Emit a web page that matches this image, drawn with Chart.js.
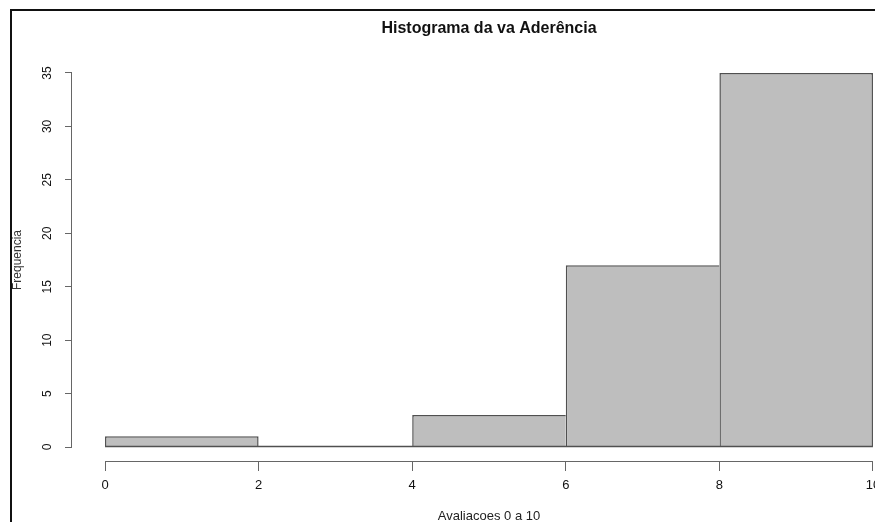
<!DOCTYPE html>
<html>
<head>
<meta charset="utf-8">
<script src="https://cdn.jsdelivr.net/npm/chart.js@4/dist/chart.umd.min.js"></script>
<style>
  html, body { margin: 0; padding: 0; background: #fff; overflow: hidden; }
  #frame { position: absolute; left: 10px; top: 9px; width: 1000px; height: 1000px;
           border-left: 2px solid #111; border-top: 2px solid #111; }
  #hist { position: absolute; left: 0; top: 0; }
</style>
</head>
<body>
<div id="frame"></div>
<canvas id="hist" width="978" height="532"></canvas>
<script>
// histogram bins - Avaliacoes 0 a 10
const binStarts = [0, 2, 4, 6, 8];
const binEnds = [2, 4, 6, 8, 10];
const counts = [1, 0, 3, 17, 35];
const xTicks = [0, 2, 4, 6, 8, 10];
const yTicks = [0, 5, 10, 15, 20, 25, 30, 35];

const FONT = "'Liberation Sans', Arial, sans-serif";
const AXIS_COLOR = "#666";
const BAR_EDGE = "#505050";

// R style axes: lines only from first to last tick, plus the bar baseline
const rAxes = {
  id: "rAxes",
  afterDatasetsDraw(chart) {
    const { ctx, chartArea } = chart;
    const x = chart.scales.x, y = chart.scales.y;
    const x0 = x.getPixelForValue(xTicks[0]);
    const x1 = x.getPixelForValue(xTicks[xTicks.length - 1]);
    const y0 = y.getPixelForValue(yTicks[0]);
    const y1 = y.getPixelForValue(yTicks[yTicks.length - 1]);
    const base = Math.round(y.getPixelForValue(0)) - 0.5;
    const ax = Math.round(chartArea.bottom) - 0.5;
    const ay = Math.round(chartArea.left) - 0.5;

    ctx.save();
    ctx.strokeStyle = AXIS_COLOR;
    ctx.lineWidth = 1;
    ctx.beginPath();
    ctx.moveTo(x0, ax); ctx.lineTo(x1, ax);
    ctx.moveTo(ay, y0); ctx.lineTo(ay, y1);
    ctx.stroke();
    ctx.strokeStyle = BAR_EDGE;
    ctx.lineWidth = 1.5;
    ctx.beginPath();
    ctx.moveTo(x0, base); ctx.lineTo(x1, base);
    ctx.stroke();
    ctx.restore();
  }
};

new Chart(document.getElementById("hist"), {
  type: "bar",
  data: {
    datasets: [{
      data: counts.map((c, i) => ({ x: (binStarts[i] + binEnds[i]) / 2, y: c })),
      backgroundColor: "#bebebe",
      borderColor: BAR_EDGE,
      borderWidth: ctx => {
        const i = ctx.dataIndex;
        const c = counts[i];
        return {
          top: 1.5,
          left: (i === 0 || counts[i - 1] <= c) ? 1.5 : 0,
          right: (i === counts.length - 1 || counts[i + 1] < c) ? 1.5 : 0,
          bottom: 0
        };
      },
      barPercentage: 1,
      categoryPercentage: 1,
      inflateAmount: 0
    }]
  },
  options: {
    responsive: false,
    animation: false,
    devicePixelRatio: 1,
    layout: { padding: { left: 0, right: 72, top: 0, bottom: 0 } },
    plugins: {
      legend: { display: false },
      tooltip: { enabled: false },
      title: {
        display: true,
        fullSize: false,
        text: "Histograma da va Aderência",
        color: "#111",
        font: { family: FONT, size: 16, weight: "bold" },
        padding: { top: 19, bottom: 19.8 }
      }
    },
    scales: {
      x: {
        type: "linear",
        min: -0.43,
        max: 10.43,
        offset: false,
        afterBuildTicks: s => { s.ticks = xTicks.map(v => ({ value: v })); },
        afterFit: s => { s.height = 70; },
        grid: { offset: false, drawOnChartArea: false, drawTicks: true, tickLength: 9, color: AXIS_COLOR },
        border: { display: false },
        ticks: { color: "#111", font: { family: FONT, size: 13 }, padding: 7, maxRotation: 0 },
        title: {
          display: true,
          text: "Avaliacoes 0 a 10",
          color: "#222",
          font: { family: FONT, size: 13 },
          padding: { top: 0, bottom: 8 }
        }
      },
      y: {
        min: -1.4,
        max: 36.4,
        afterBuildTicks: s => { s.ticks = yTicks.map(v => ({ value: v })); },
        afterFit: s => { s.width = 72; },
        grid: { drawOnChartArea: false, drawTicks: true, tickLength: 7, color: AXIS_COLOR },
        border: { display: false },
        ticks: {
          color: "#111",
          font: { family: FONT, size: 12 },
          padding: 11,
          minRotation: 90,
          maxRotation: 90,
          crossAlign: "center"
        },
        title: {
          display: true,
          text: "Frequencia",
          color: "#333",
          font: { family: FONT, size: 12 },
          padding: { top: 10, bottom: 0 }
        }
      }
    }
  },
  plugins: [rAxes]
});
</script>
</body>
</html>
